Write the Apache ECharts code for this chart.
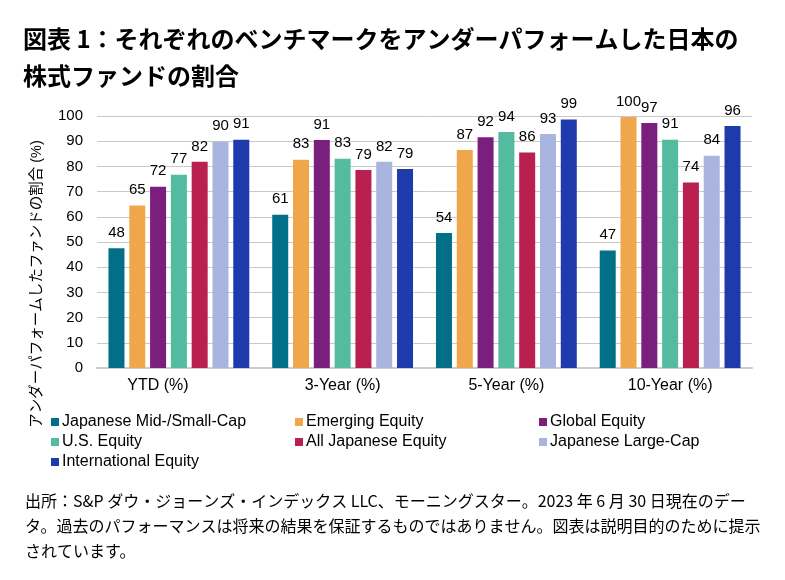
<!DOCTYPE html>
<html><head><meta charset="utf-8">
<script src="https://cdn.jsdelivr.net/npm/echarts@6/dist/echarts.min.js"></script>
<style>html,body{margin:0;padding:0;background:#fff;}#c{width:785px;height:580px;}</style>
</head><body><div id="c"></div>
<script>
const categories = ['YTD (%)', '3-Year (%)', '5-Year (%)', '10-Year (%)'];
const seriesNames = ['Japanese Mid-/Small-Cap','Emerging Equity','Global Equity','U.S. Equity','All Japanese Equity','Japanese Large-Cap','International Equity'];
const midSmallCap = [47.5, 60.8, 53.6, 46.6];
const emerging = [64.5, 82.6, 86.5, 99.6];
const globalEq = [71.9, 90.5, 91.6, 97.2];
const usEq = [76.7, 83.0, 93.7, 90.6];
const allJapanese = [81.8, 78.6, 85.5, 73.6];
const japanLarge = [89.8, 81.8, 92.9, 84.2];
const international = [90.6, 79.0, 98.6, 96.0];
const colors = ['#006F87','#F0A64A','#7B1F7E','#55BBA0','#B92050','#A9B5DE','#1F3AAA'];
const yTicks = {min: 0, max: 100, interval: 10};
const titleText = '図表 1：それぞれのベンチマークをアンダーパフォームした日本の\n株式ファンドの割合';
const yName = 'アンダーパフォームしたファンドの割合 (%)';
const note = '出所：S&P ダウ・ジョーンズ・インデックス LLC、モーニングスター。2023 年 6 月 30 日現在のデー\nタ。過去のパフォーマンスは将来の結果を保証するものではありません。図表は説明目的のために提示\nされています。';

const allData = [midSmallCap, emerging, globalEq, usEq, allJapanese, japanLarge, international];
const font = '"Liberation Sans", Arial, "Noto Sans CJK JP", sans-serif';
const cjk = '"Noto Sans CJK JP", sans-serif';
const chart = echarts.init(document.getElementById('c'));
const legendCols = [[0,3,6],[1,4],[2,5]];
const legendX = [51, 295, 539];
chart.setOption({
  animation: false,
  textStyle: {fontFamily: font},
  title: {
    text: titleText, left: 18, top: 15,
    textStyle: {fontSize: 24, fontWeight: 'bold', color: '#000', lineHeight: 37, fontFamily: cjk}
  },
  legend: legendCols.map((col, i) => ({
    orient: 'vertical', left: legendX[i], top: 412, itemWidth: 8, itemHeight: 8, itemGap: 0,
    padding: 0, icon: 'rect', selectedMode: false,
    data: col.map(k => seriesNames[k]),
    textStyle: {fontSize: 16, lineHeight: 20, color: '#000', padding: [0,0,0,-2], fontFamily: font}
  })),
  grid: {left: 97, right: 33, top: 116, bottom: 212},
  xAxis: {
    type: 'category',
    data: categories.map((c, i) => i === 0 ? {value: c, textStyle: {padding: [0, 42, 0, 0]}} : c),
    axisLine: {lineStyle: {color: '#cccccc', width: 2}},
    axisTick: {show: false},
    axisLabel: {fontSize: 16, color: '#000', margin: 10}
  },
  yAxis: {
    type: 'value', min: yTicks.min, max: yTicks.max, interval: yTicks.interval,
    axisLine: {show: false}, axisTick: {show: false},
    splitLine: {lineStyle: {color: '#c8c8c8', width: 1}},
    axisLabel: {fontSize: 15, color: '#000', margin: 14}
  },
  graphic: [
    {type: 'text', x: 37, y: 284, rotation: Math.PI/2,
     style: {text: yName, fontSize: 14.5, fill: '#000', align: 'center', verticalAlign: 'middle', fontFamily: font}},
    {type: 'text', left: 25, top: 488,
     style: {text: note, fontSize: 16, fill: '#000', lineHeight: 25, fontFamily: cjk}}
  ],
  series: seriesNames.map((n, i) => ({
    name: n, type: 'bar', data: allData[i], barWidth: 16, barGap: '30%',
    itemStyle: {color: colors[i]},
    label: {show: true, position: 'top', distance: 8, fontSize: 15, color: '#000',
      formatter: p => Math.round(p.value)}
  }))
});
</script></body></html>
